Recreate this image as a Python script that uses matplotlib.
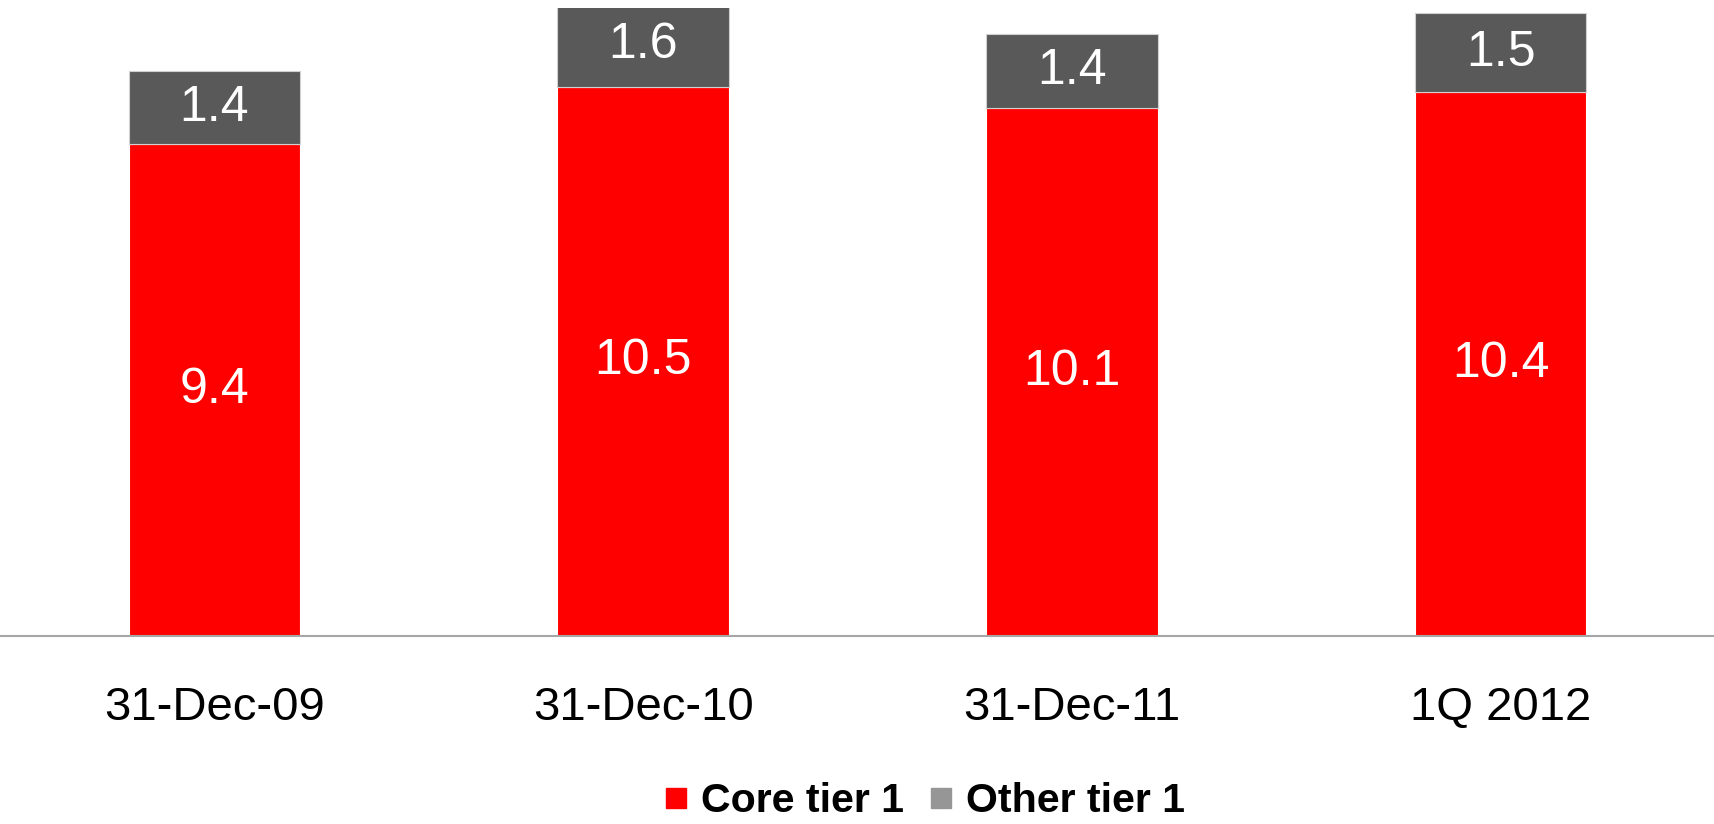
import matplotlib
matplotlib.use("Agg")
import matplotlib.pyplot as plt
from matplotlib.lines import Line2D

periods = ["31-Dec-09", "31-Dec-10", "31-Dec-11", "1Q 2012"]
core_tier1 = [9.4, 10.5, 10.1, 10.4]
other_tier1 = [1.4, 1.6, 1.4, 1.5]

RED = "#ff0000"
DARK = "#595959"
LEGEND_GREY = "#969696"

plt.rcParams["font.family"] = ["Liberation Sans", "DejaVu Sans"]

fig = plt.figure(figsize=(17.15, 8.24), dpi=100)
ax = fig.add_axes([0.0, 0.228, 1.0, 0.762])

x = range(len(periods))
b1 = ax.bar(x, core_tier1, width=0.4, color=RED, edgecolor="white", linewidth=0.8)
b2 = ax.bar(x, other_tier1, width=0.4, bottom=core_tier1, color=DARK,
            edgecolor="#d0d0d0", linewidth=0.8)

for i in x:
    ax.text(i, core_tier1[i] / 2, f"{core_tier1[i]:.1f}", ha="center", va="center",
            color="white", fontsize=36)
    ax.text(i, core_tier1[i] + other_tier1[i] / 2, f"{other_tier1[i]:.1f}",
            ha="center", va="center", color="white", fontsize=36)

ax.set_xlim(-0.5, 3.5)
ax.set_ylim(0, 12)
ax.set_xticks(list(x))
ax.set_xticklabels(periods, fontsize=34)
ax.tick_params(axis="x", length=0, pad=36)
ax.set_yticks([])
for s in ["top", "right", "left"]:
    ax.spines[s].set_visible(False)
ax.spines["bottom"].set_color("#a6a6a6")
ax.spines["bottom"].set_linewidth(1.5)

handles = [Line2D([], [], ls="none", marker="s", markersize=14.5, color=RED),
           Line2D([], [], ls="none", marker="s", markersize=14.5, color=LEGEND_GREY)]
fig.legend(handles, ["Core tier 1", "Other tier 1"], loc="center",
           bbox_to_anchor=(0.539, 0.028), ncol=2, frameon=False,
           prop={"weight": "bold", "size": 29.6}, handlelength=0.6,
           handletextpad=0.3, columnspacing=0.6, borderpad=0)

fig.savefig("out.png", dpi=100)
